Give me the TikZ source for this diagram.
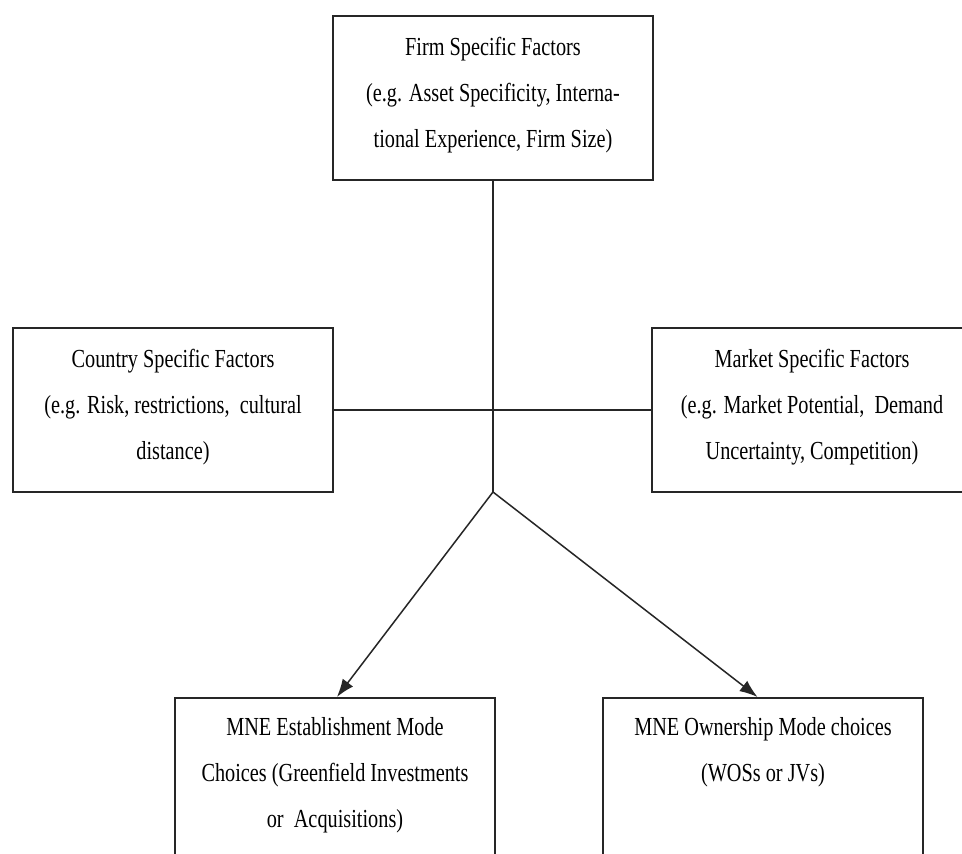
\documentclass[tikz,border=0pt]{standalone}
\usepackage{fontspec}
\setmainfont{Liberation Serif}[FakeStretch=0.78]
\usetikzlibrary{arrows.meta,calc}
% extra depth under the last line lifts the text block a little
\newcommand{\lowpad}{\rule[-12pt]{0pt}{0pt}}
\begin{document}
\begin{tikzpicture}[x=1pt,y=-1pt,
  factor/.style={draw=black!85, line width=1.5pt, minimum width=320pt,
    minimum height=164pt, align=center, inner sep=0pt,
    font=\fontsize{26}{46}\selectfont},
  choice/.style={draw=black!85, line width=1.5pt, minimum width=320pt,
    inner xsep=0pt, inner ysep=6pt, anchor=north,
    font=\fontsize{26}{46}\selectfont},
  link/.style={draw=black!85, line width=1.5pt},
  flow/.style={link, -{Latex[length=18pt,width=13pt]}}]
\clip (0,0) rectangle (962,854);
\fill[white] (0,0) rectangle (962,854);

% influencing factors
\node[factor] (firm) at (493,98)
  {Firm Specific Factors\\(e.g. Asset Specificity, Interna-\\tional Experience, Firm Size)\lowpad};
\node[factor] (country) at (173,410)
  {Country Specific Factors\\(e.g. Risk, restrictions,~ cultural\\distance)\lowpad};
\node[factor] (market) at (812,410)
  {Market Specific Factors\\(e.g. Market Potential,~ Demand\\Uncertainty, Competition)\lowpad};

% entry mode outcomes
\node[choice] (est) at (335,697)
  {\parbox[c][190pt][t]{300pt}{\centering\strut MNE Establishment Mode\\
   Choices (Greenfield Investments\\or~ Acquisitions)}};
\node[choice] (own) at (763,697)
  {\parbox[c][190pt][t]{300pt}{\centering\strut MNE Ownership Mode choices\\
   (WOSs or JVs)}};

% connectors
\coordinate (j) at (493,492);
\draw[link] (firm.south) -- (j);
\draw[link] (country.east) -- (market.west);
\draw[flow] (j) -- ($(est.north west)!0.506!(est.north east)$);
\draw[flow] (j) -- ($(own.north west)!0.483!(own.north east)$);
\end{tikzpicture}
\end{document}
